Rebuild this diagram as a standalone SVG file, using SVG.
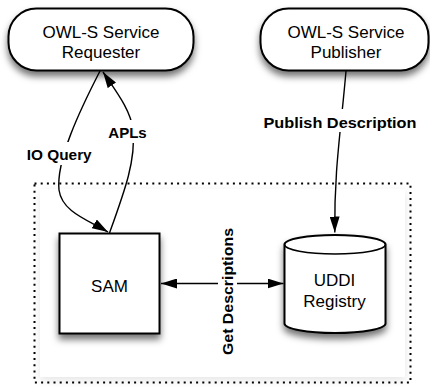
<svg xmlns="http://www.w3.org/2000/svg" width="430" height="387" viewBox="0 0 430 387">
  <style>
    .node { fill: #ffffff; stroke: #000000; stroke-width: 2; }
    .name { font-family: "Liberation Sans", Arial, sans-serif; font-size: 17px; fill: #000000; text-anchor: middle; }
    .label { font-family: "Liberation Sans", Arial, sans-serif; font-size: 15px; font-weight: bold; fill: #000000; text-anchor: middle; }
    .edge { fill: none; stroke: #000000; stroke-width: 1.4; }
    .labelbg { fill: #ffffff; stroke: none; }
  </style>
  <defs>
    <filter id="shadow" x="-20%" y="-20%" width="140%" height="150%">
      <feDropShadow dx="0" dy="5" stdDeviation="3.5" flood-color="#000000" flood-opacity="0.55"/>
    </filter>
    <filter id="softShadow" x="-10%" y="-10%" width="120%" height="120%">
      <feDropShadow dx="0" dy="3" stdDeviation="4" flood-color="#000000" flood-opacity="0.10"/>
    </filter>
    <marker id="arrow" viewBox="0 0 16 10" refX="16" refY="5" markerWidth="16" markerHeight="10" markerUnits="userSpaceOnUse" orient="auto-start-reverse">
      <path d="M0,0 L16,5 L0,10 z" fill="#000000"/>
    </marker>
  </defs>

  <!-- system boundary -->
  <g id="boundary">
    <rect x="40" y="189" width="365" height="188" fill="#ffffff" filter="url(#softShadow)"/>
    <rect x="34.5" y="183.5" width="376" height="199" fill="none" stroke="#000000" stroke-width="2" stroke-dasharray="2,4.2"/>
  </g>

  <!-- nodes -->
  <g id="requester">
    <rect class="node" x="8.5" y="8.5" width="185" height="62" rx="28" ry="28" filter="url(#shadow)"/>
    <text class="name" x="101" y="37.5">OWL-S Service</text>
    <text class="name" x="101" y="57.5">Requester</text>
  </g>

  <g id="publisher">
    <rect class="node" x="260.5" y="8.5" width="168" height="62" rx="28" ry="28" filter="url(#shadow)"/>
    <text class="name" x="346" y="37.5">OWL-S Service</text>
    <text class="name" x="346" y="57.5">Publisher</text>
  </g>

  <g id="sam">
    <rect class="node" x="59.5" y="233.5" width="100" height="100" filter="url(#shadow)"/>
    <text class="name" x="109.5" y="291.5">SAM</text>
  </g>

  <g id="uddi">
    <path class="node" d="M284.5,244.5 A50.5,9.5 0 0 1 385.5,244.5 L385.5,323.5 A50.5,9.5 0 0 1 284.5,323.5 Z" filter="url(#shadow)"/>
    <path d="M284.5,244.5 A50.5,9.5 0 0 0 385.5,244.5" fill="none" stroke="#000000" stroke-width="1.6"/>
    <text class="name" x="334.5" y="286">UDDI</text>
    <text class="name" x="334.5" y="306.5">Registry</text>
  </g>

  <!-- connectors and their labels -->
  <g id="connectors">
    <path class="edge" d="M100,71 C80,110 56,160 59,190 C62,212 88,220 108,232" marker-end="url(#arrow)"/>
    <path class="edge" d="M109.5,233 C125,190 136,160 133,130 C131,110 115,90 103,72" marker-end="url(#arrow)"/>
    <path class="edge" d="M346,71 C341,130 334,170 334.8,232.5" marker-end="url(#arrow)"/>
    <path class="edge" d="M161,283.5 L283.5,283.5" marker-start="url(#arrow)" marker-end="url(#arrow)"/>

    <rect class="labelbg" x="25" y="142" width="68" height="23"/>
    <text class="label" x="59.2" y="160" textLength="65" lengthAdjust="spacingAndGlyphs">IO Query</text>

    <rect class="labelbg" x="106" y="120" width="43" height="23"/>
    <text class="label" x="127.5" y="138" textLength="38.5" lengthAdjust="spacingAndGlyphs">APLs</text>

    <rect class="labelbg" x="261" y="109" width="158" height="23"/>
    <text class="label" x="340" y="128" textLength="153" lengthAdjust="spacingAndGlyphs">Publish Description</text>

    <rect class="labelbg" x="218" y="225" width="19" height="133"/>
    <text class="label" transform="translate(232.5,291.5) rotate(-90)" x="0" y="0" textLength="127" lengthAdjust="spacingAndGlyphs">Get Descriptions</text>
  </g>
</svg>
